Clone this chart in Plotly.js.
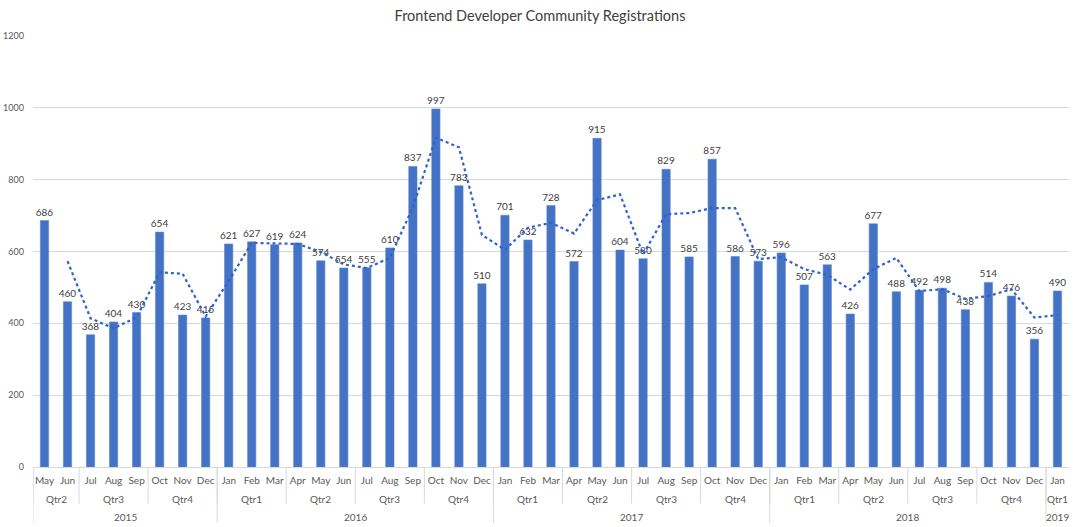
<!DOCTYPE html>
<html>
<head>
<meta charset="utf-8">
<script src="https://cdn.plot.ly/plotly-3.0.1.min.js"></script>
<style>
  html, body { margin: 0; padding: 0; background: #fff; }
  #plotly { width: 1080px; height: 527px; }
</style>
</head>
<body>
<div id="plotly"></div>
<script>
// chart data
var months = ['May', 'Jun', 'Jul', 'Aug', 'Sep', 'Oct', 'Nov', 'Dec',
  'Jan', 'Feb', 'Mar', 'Apr', 'May', 'Jun', 'Jul', 'Aug', 'Sep', 'Oct', 'Nov', 'Dec',
  'Jan', 'Feb', 'Mar', 'Apr', 'May', 'Jun', 'Jul', 'Aug', 'Sep', 'Oct', 'Nov', 'Dec',
  'Jan', 'Feb', 'Mar', 'Apr', 'May', 'Jun', 'Jul', 'Aug', 'Sep', 'Oct', 'Nov', 'Dec',
  'Jan'];
var quarters = ['Qtr2', 'Qtr2', 'Qtr3', 'Qtr3', 'Qtr3', 'Qtr4', 'Qtr4', 'Qtr4',
  'Qtr1', 'Qtr1', 'Qtr1', 'Qtr2', 'Qtr2', 'Qtr2', 'Qtr3', 'Qtr3', 'Qtr3', 'Qtr4', 'Qtr4', 'Qtr4',
  'Qtr1', 'Qtr1', 'Qtr1', 'Qtr2', 'Qtr2', 'Qtr2', 'Qtr3', 'Qtr3', 'Qtr3', 'Qtr4', 'Qtr4', 'Qtr4',
  'Qtr1', 'Qtr1', 'Qtr1', 'Qtr2', 'Qtr2', 'Qtr2', 'Qtr3', 'Qtr3', 'Qtr3', 'Qtr4', 'Qtr4', 'Qtr4',
  'Qtr1'];
var years = ['2015', '2015', '2015', '2015', '2015', '2015', '2015', '2015',
  '2016', '2016', '2016', '2016', '2016', '2016', '2016', '2016', '2016', '2016', '2016', '2016',
  '2017', '2017', '2017', '2017', '2017', '2017', '2017', '2017', '2017', '2017', '2017', '2017',
  '2018', '2018', '2018', '2018', '2018', '2018', '2018', '2018', '2018', '2018', '2018', '2018',
  '2019'];
var registrations = [686, 460, 368, 404, 430, 654, 423, 415,
  621, 627, 619, 624, 574, 554, 555, 610, 837, 997, 783, 510,
  701, 632, 728, 572, 915, 604, 580, 829, 585, 857, 586, 573,
  596, 507, 563, 426, 677, 488, 492, 498, 438, 514, 476, 356,
  490];
// dotted trend line (2 period moving average), starts at the 2nd month
var trend = [null, 573, 414, 386, 417, 542, 538, 419,
  518, 624, 623, 621, 599, 564, 554, 582, 723, 917, 890, 646,
  605, 666, 680, 650, 743, 759, 592, 704, 707, 721, 721, 579,
  584, 551, 535, 494, 551, 582, 490, 495, 468, 476, 495, 416,
  423];

var idx = months.map(function(m, i) { return i; });
var blue = '#4472C4';
var grey = '#595959';
var font = 'Lato, "Open Sans", sans-serif';

var barTrace = {
  x: idx,
  y: registrations,
  type: 'bar',
  marker: { color: blue, line: { color: '#5b86d4', width: 0.6 } },
  text: registrations.map(String),
  textposition: 'outside',
  constraintext: 'none',
  textfont: { size: 10, color: '#404040', family: font },
  cliponaxis: false,
  hoverinfo: 'x+y'
};
var trendTrace = {
  x: idx,
  y: trend,
  type: 'scatter',
  mode: 'lines',
  line: { color: '#2e63c9', width: 2.2, dash: 'dot' },
  hoverinfo: 'skip'
};

// quarter / year group labels and the separator lines of the axis
var annotations = [];
var shapes = [];
function groups(keys) {
  var out = [];
  var start = 0;
  for (var i = 1; i <= keys.length; i++) {
    if (i === keys.length || keys[i] !== keys[i - 1] || (keys === quarters && years[i] !== years[i - 1])) {
      out.push({ label: keys[start], from: start, to: i - 1 });
      start = i;
    }
  }
  return out;
}
groups(quarters).forEach(function(g) {
  annotations.push({
    x: (g.from + g.to) / 2, y: -0.075, xref: 'x', yref: 'paper',
    text: g.label, showarrow: false, yanchor: 'middle',
    font: { size: 10, color: grey, family: font }
  });
  shapes.push({
    type: 'line', xref: 'x', yref: 'paper', x0: g.from - 0.5, x1: g.from - 0.5,
    y0: 0, y1: -0.085, line: { color: '#d9d9d9', width: 1 }
  });
});
groups(years).forEach(function(g) {
  annotations.push({
    x: (g.from + g.to) / 2, y: -0.116, xref: 'x', yref: 'paper',
    text: g.label, showarrow: false, yanchor: 'middle',
    font: { size: 10, color: grey, family: font }
  });
  shapes.push({
    type: 'line', xref: 'x', yref: 'paper', x0: g.from - 0.5, x1: g.from - 0.5,
    y0: 0, y1: -0.13, line: { color: '#d9d9d9', width: 1 }
  });
});

var layout = {
  width: 1080,
  height: 527,
  title: {
    text: 'Frontend Developer Community Registrations',
    font: { size: 14.5, color: '#404040', family: font },
    x: 0.5, xanchor: 'center', y: 0.97, yanchor: 'middle'
  },
  showlegend: false,
  bargap: 0.64,
  margin: { l: 33, r: 11, t: 36, b: 60 },
  paper_bgcolor: '#ffffff',
  plot_bgcolor: '#ffffff',
  xaxis: {
    range: [-0.5, 44.5],
    tickvals: idx,
    ticktext: months,
    tickangle: 0,
    ticks: '',
    ticklabelstandoff: 4,
    showgrid: false,
    zeroline: false,
    showline: true,
    linecolor: '#d9d9d9',
    linewidth: 1,
    tickfont: { size: 10, color: grey, family: font },
    fixedrange: true
  },
  yaxis: {
    range: [0, 1200],
    dtick: 200,
    showgrid: true,
    gridcolor: '#d9d9d9',
    gridwidth: 1,
    zeroline: false,
    showline: false,
    ticks: '',
    ticklabelstandoff: 8,
    tickfont: { size: 9, color: grey, family: font },
    fixedrange: true
  },
  annotations: annotations,
  shapes: shapes
};

Plotly.newPlot('plotly', [barTrace, trendTrace], layout, { displayModeBar: false, staticPlot: true });
</script>
</body>
</html>
